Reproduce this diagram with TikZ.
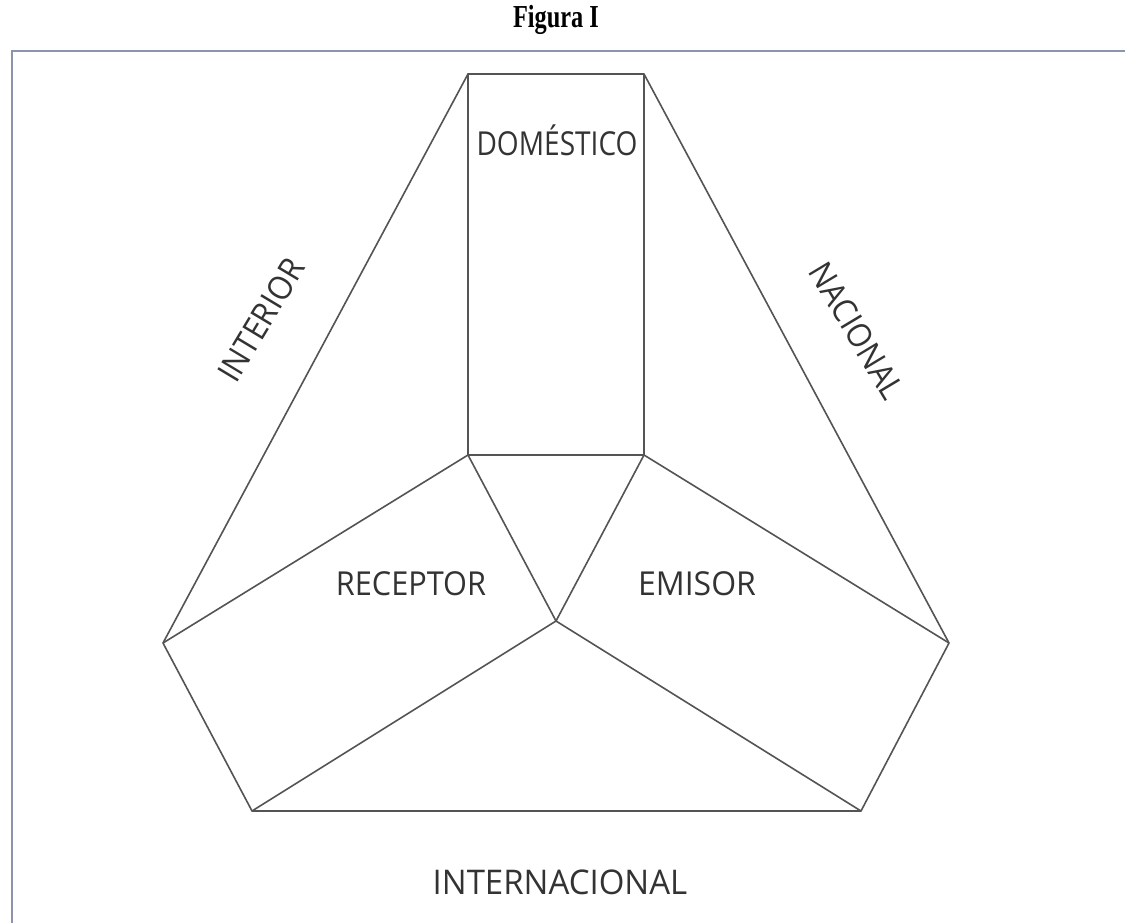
\documentclass[tikz,border=0pt]{standalone}
\usepackage{fontspec}
\setmainfont{Liberation Serif}
\newfontfamily\labfont[FakeStretch=0.93]{Open Sans}
\newfontfamily\labfontn[FakeStretch=0.85]{Open Sans}
\newfontfamily\labfontw[FakeStretch=0.97]{Open Sans}
\newfontfamily\titfont[FakeStretch=0.76]{Liberation Serif}
\definecolor{framecol}{rgb}{0.55,0.58,0.68}
\definecolor{linecol}{rgb}{0.33,0.33,0.33}
\begin{document}
\begin{tikzpicture}[x=1pt,y=-1pt,
  edge/.style={draw=linecol,line width=1.6pt,line join=round},
  frameline/.style={draw=framecol,line width=2pt},
  lab/.style={font=\labfont\fontsize{33}{33}\selectfont,text=black!80,inner sep=0pt}]
\useasboundingbox (0,0) rectangle (1125,923);
\fill[white] (0,0) rectangle (1125,923);
% frame
\coordinate (fbl) at (12,923);
\coordinate (ftl) at (12,51);
\coordinate (ftr) at (1125,51);
\draw[frameline] (fbl) -- (ftl) -- (ftr);
% title
\node[font=\titfont\bfseries\fontsize{32}{32}\selectfont,inner sep=0pt] (title) at (556,20) {Figura I};
% vertices
\coordinate (tl) at (468,74);
\coordinate (tr) at (644,74);
\coordinate (bl) at (468,455);
\coordinate (br) at (644,455);
\coordinate (c) at (556,621);
\coordinate (l) at (163,643);
\coordinate (r) at (949,643);
\coordinate (lb) at (252,811);
\coordinate (rb) at (861,811);
% edges
\draw[edge] (tl) -- (tr) -- (br) -- (bl) -- cycle;
\draw[edge] (tl) -- (l) -- (lb) -- (rb) -- (r) -- (tr);
\draw[edge] (bl) -- (l);
\draw[edge] (br) -- (r);
\draw[edge] (bl) -- (c) -- (br);
\draw[edge] (lb) -- (c) -- (rb);
% labels
\node[lab,font=\labfontn\fontsize{33}{33}\selectfont] (dom) at (557,140) {DOMÉSTICO};
\node[lab] (rec) at (411,584) {RECEPTOR};
\node[lab,font=\labfontw\fontsize{33}{33}\selectfont] (emi) at (697,584) {EMISOR};
\node[lab,font=\labfontw\fontsize{34}{34}\selectfont] (int) at (560,882) {INTERNACIONAL};
\node[lab,rotate=59] (inte) at (261,320) {INTERIOR};
\node[lab,rotate=-59] (nac) at (857,331) {NACIONAL};
\end{tikzpicture}
\end{document}
